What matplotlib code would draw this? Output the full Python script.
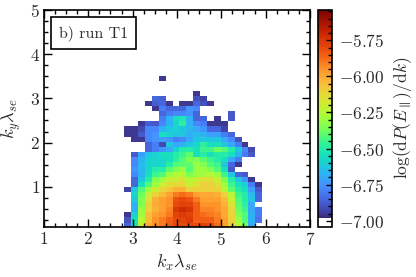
import numpy as np
import matplotlib
matplotlib.use('Agg')
import matplotlib.pyplot as plt
from matplotlib.colors import ListedColormap
from matplotlib.ticker import MultipleLocator

plt.rcParams['font.family'] = 'cmr10'
plt.rcParams['mathtext.fontset'] = 'cm'
plt.rcParams['axes.formatter.use_mathtext'] = True
plt.rcParams['axes.unicode_minus'] = True
plt.rcParams['font.size'] = 12
text_col = '#2a2a2a'

n = np.nan
# each column runs from the lowest ky cell upward, 30 cells
c00 = [-6.85,-6.9,-6.95,n,n,n,n,-6.93,n,n,n,n,n,n,n,n,n,n,-6.95,-6.95,n,n,n,n,n,n,n,n,n,n]
c01 = [-6.55,-6.55,-6.6,-6.68,-6.68,-6.62,-6.58,-6.62,-6.85,-6.85,-6.78,-6.75,-6.78,-6.78,-6.88,n,n,-6.95,-6.95,-6.95,n,n,n,n,n,n,n,n,n,n]
c02 = [-6.2,-6.25,-6.3,-6.3,-6.35,-6.35,-6.38,-6.42,-6.55,-6.62,-6.68,-6.66,-6.65,-6.68,-6.72,n,n,-6.95,-6.88,-6.92,-6.95,n,n,n,n,n,n,n,n,n]
c03 = [-6.0,-6.05,-6.05,-6.1,-6.1,-6.15,-6.2,-6.3,-6.42,-6.5,-6.55,-6.58,-6.58,-6.6,-6.63,-6.85,-6.85,-6.78,-6.78,-6.78,-6.87,n,n,n,-6.95,n,n,n,n,n]
c04 = [-5.95,-5.95,-5.98,-6.02,-6.0,-6.02,-6.1,-6.18,-6.3,-6.35,-6.45,-6.5,-6.58,-6.58,-6.6,-6.8,-6.8,-6.75,-6.75,-6.78,-6.88,n,n,-6.95,-6.87,-6.85,n,n,n,n]
c05 = [-5.9,-5.9,-5.95,-5.98,-5.98,-5.98,-6.05,-6.12,-6.2,-6.3,-6.42,-6.5,-6.58,-6.58,-6.55,-6.75,-6.92,-6.72,-6.55,-6.68,-6.78,-6.8,-6.85,-6.8,-6.85,-6.87,n,n,n,-6.95]
c06 = [-5.85,-5.85,-5.9,-5.92,-5.95,-5.95,-5.98,-6.08,-6.15,-6.2,-6.3,-6.4,-6.5,-6.55,-6.55,-6.7,-6.62,-6.75,-6.6,-6.62,-6.68,-6.68,-6.8,-6.85,-6.95,n,n,n,n,n]
c07 = [-5.8,-5.8,-5.78,-5.75,-5.8,-5.82,-5.9,-6.02,-6.12,-6.2,-6.25,-6.35,-6.42,-6.48,-6.5,-6.58,-6.7,-6.8,-6.62,-6.6,-6.58,-6.55,-6.78,-6.85,n,n,n,n,n,n]
c08 = [-5.8,-5.78,-5.76,-5.72,-5.78,-5.8,-5.88,-6.02,-6.12,-6.15,-6.25,-6.3,-6.4,-6.42,-6.45,-6.5,-6.68,-6.78,-6.62,-6.62,-6.48,-6.52,-6.78,-6.85,-6.95,n,n,n,n,n]
c09 = [-5.8,-5.76,-5.78,-5.74,-5.78,-5.82,-5.9,-6.1,-6.2,-6.25,-6.35,-6.42,-6.4,-6.35,-6.4,-6.5,-6.62,-6.7,-6.68,-6.66,-6.68,-6.68,-6.75,-6.75,-6.95,n,n,n,n,n]
c10 = [-5.8,-5.85,-5.85,-5.85,-5.85,-5.9,-5.98,-6.1,-6.15,-6.2,-6.3,-6.3,-6.3,-6.35,-6.55,-6.55,-6.58,-6.62,-6.65,-6.7,-6.78,-6.85,-6.85,-6.78,-6.85,-6.9,-6.95,n,n,n]
c11 = [-5.78,-5.85,-5.88,-5.92,-5.95,-5.98,-6.0,-6.1,-6.1,-6.15,-6.28,-6.3,-6.35,-6.4,-6.5,-6.45,-6.48,-6.62,-6.68,-6.75,-6.8,-6.85,n,n,-6.9,-6.93,n,n,n,n]
c12 = [-5.8,-5.85,-5.9,-5.92,-5.95,-5.98,-6.0,-6.1,-6.1,-6.15,-6.25,-6.35,-6.42,-6.45,-6.55,-6.45,-6.55,-6.62,-6.72,-6.85,-6.95,n,n,n,-6.95,n,n,n,n,n]
c13 = [-5.88,-5.9,-5.92,-5.95,-5.95,-5.98,-6.02,-6.1,-6.15,-6.2,-6.3,-6.42,-6.45,-6.5,-6.5,-6.38,-6.55,-6.62,-6.72,-6.85,-6.95,-6.95,n,n,n,n,n,n,n,n]
c14 = [-5.98,-5.98,-6.0,-6.0,-6.02,-6.05,-6.1,-6.25,-6.3,-6.35,-6.45,-6.55,-6.62,-6.55,-6.5,-6.42,-6.62,-6.7,-6.8,-6.93,-6.95,n,n,n,n,n,n,n,n,n]
c15 = [-6.1,-6.1,-6.12,-6.12,-6.15,-6.2,-6.25,-6.4,-6.45,-6.5,-6.62,-6.88,-6.85,-6.7,-6.55,-6.5,-6.7,-6.78,-6.85,n,n,-6.88,-6.88,n,n,n,n,n,n,n]
c16 = [-6.25,-6.3,-6.35,-6.38,-6.4,-6.42,-6.45,-6.5,-6.55,-6.62,-6.85,n,-6.95,-6.8,-6.68,-6.62,-6.8,-6.9,n,n,n,n,n,n,n,n,n,n,n,n]
c17 = [-6.38,-6.42,-6.42,-6.45,-6.48,-6.5,-6.5,-6.55,-6.6,-6.75,-6.88,n,n,n,-6.8,-6.78,-6.95,n,n,n,n,n,n,n,n,n,n,n,n,n]
c18 = [-6.7,-6.68,-6.68,-6.7,-6.7,-6.63,-6.66,-6.72,-6.8,-6.95,n,n,n,n,-6.88,-6.92,n,n,n,n,n,n,n,n,n,n,n,n,n,n]
c19 = [n,-6.82,-6.8,-6.8,n,-6.85,-6.85,-6.88,-6.95,n,n,n,n,n,n,n,n,n,n,n,n,n,n,n,n,n,n,n,n,n]
columns = [c00,c01,c02,c03,c04,c05,c06,c07,c08,c09,c10,c11,c12,c13,c14,c15,c16,c17,c18,c19]

kx_edges = 2.81 + 0.1556 * np.arange(len(columns) + 1)
ky_edges = 0.076 + 0.1144 * np.arange(31)
Z = np.ma.masked_invalid(np.array(columns).T)

turbo = plt.get_cmap('turbo')(np.linspace(0.035, 1, 240))
white = np.ones((10, 4))
cmap = ListedColormap(np.vstack([white, turbo]))
cmap.set_bad('white')

W, H = 416, 277
fig = plt.figure(figsize=(W / 100, H / 100), dpi=100)
ax = fig.add_axes([44 / W, 1 - 226.5 / H, 266 / W, 216.5 / H])
cax = fig.add_axes([318 / W, 1 - 226.5 / H, 14 / W, 216.5 / H])

mesh = ax.pcolormesh(kx_edges, ky_edges, Z, cmap=cmap, vmin=-7.04, vmax=-5.54, rasterized=True)
ax.set_xlim(1, 7)
ax.set_ylim(0.1, 5)
ax.xaxis.set_major_locator(MultipleLocator(1))
ax.xaxis.set_minor_locator(MultipleLocator(0.25))
ax.yaxis.set_major_locator(MultipleLocator(1))
ax.yaxis.set_minor_locator(MultipleLocator(0.25))
ax.tick_params(which='major', direction='in', top=True, right=True, length=6, width=1, labelsize=12.5, pad=3, labelcolor=text_col)
ax.tick_params(which='minor', direction='in', top=True, right=True, length=3, width=1)
for s in ax.spines.values():
    s.set_linewidth(1.2)
ax.set_xlabel(r'$k_x\lambda_{se}$', fontsize=13, labelpad=4, color=text_col)
ax.set_ylabel(r'$k_y\lambda_{se}$', fontsize=13, labelpad=5, color=text_col)
ax.text((93.5 - 44) / 266, 1 - (33 - 10) / 216.5, 'b) run T1', transform=ax.transAxes,
        ha='center', va='center', fontsize=11.5, zorder=5, color=text_col,
        bbox=dict(boxstyle='square,pad=0.5', fc='white', ec='black', lw=1.2))

cb = fig.colorbar(mesh, cax=cax)
cb.set_ticks([-5.75, -6.0, -6.25, -6.5, -6.75, -7.0])
cb.set_ticklabels([r'$-5.75$', r'$-6.00$', r'$-6.25$', r'$-6.50$', r'$-6.75$', r'$-7.00$'])
cb.ax.yaxis.set_minor_locator(MultipleLocator(0.05))
cb.ax.tick_params(which='major', direction='in', length=4, width=1, labelsize=12.5, pad=5, right=True, labelcolor=text_col)
cb.ax.tick_params(which='minor', direction='in', length=3, width=1, right=True)
cb.outline.set_linewidth(1.2)
cb.set_label(r'$\log(\mathrm{d}P(E_\parallel)/\mathrm{d}k)$', fontsize=12.5, labelpad=5, color=text_col)

fig.savefig('out.png', dpi=100)
